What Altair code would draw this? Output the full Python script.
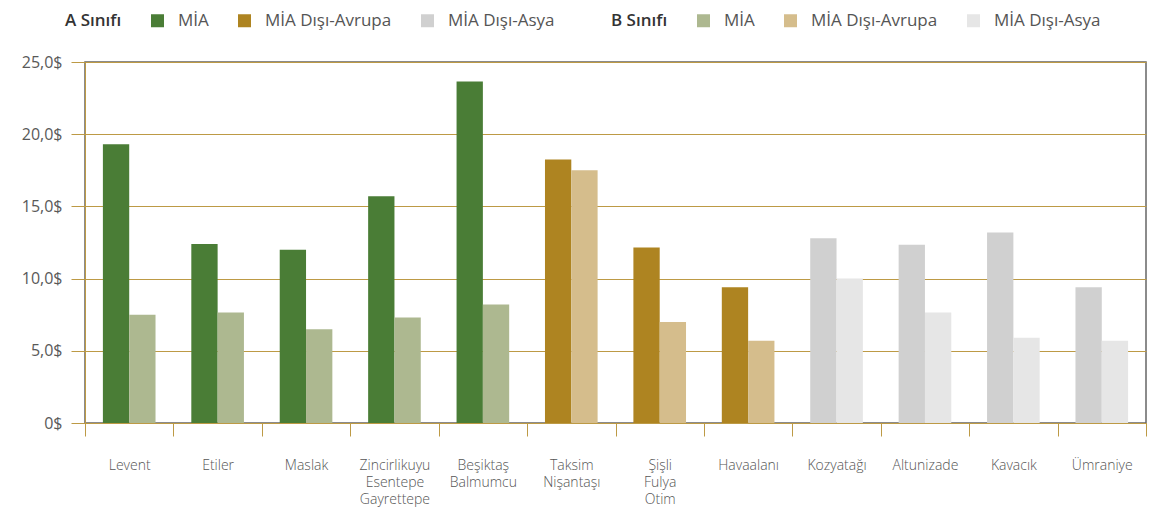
import altair as alt
import pandas as pd

locations = ["Levent", "Etiler", "Maslak", "Zincirlikuyu\nEsentepe\nGayrettepe",
             "Beşiktaş\nBalmumcu", "Taksim\nNişantaşı", "Şişli\nFulya\nOtim",
             "Havaalanı", "Kozyatağı", "Altunizade", "Kavacık", "Ümraniye"]
regions = ["MİA"] * 5 + ["MİA Dışı-Avrupa"] * 3 + ["MİA Dışı-Asya"] * 4
a_values = [19.3, 12.4, 12.0, 15.7, 23.65, 18.25, 12.15, 9.4, 12.8, 12.35, 13.2, 9.4]
b_values = [7.5, 7.65, 6.5, 7.3, 8.2, 17.5, 7.0, 5.7, 10.0, 7.65, 5.9, 5.7]

legend_keys = ["A Sınıfı", "A|MİA", "A|MİA Dışı-Avrupa", "A|MİA Dışı-Asya",
               "B Sınıfı", "B|MİA", "B|MİA Dışı-Avrupa", "B|MİA Dışı-Asya"]
legend_colors = ["transparent", "#4a7d36", "#ae8421", "#d0d0d0",
                 "transparent", "#adb890", "#d5bd8c", "#e6e6e6"]
y_ticks = [0, 5, 10, 15, 20, 25]

rows = []
for loc, reg, a, b in zip(locations, regions, a_values, b_values):
    rows.append({"loc": loc, "cls": "A", "key": "A|" + reg, "value": a})
    rows.append({"loc": loc, "cls": "B", "key": "B|" + reg, "value": b})
df = pd.DataFrame(rows)

GOLD = "#bd9a45"
FONT = "Open Sans"
IS_HEADER = "indexof(datum.value, '|') < 0"

chart = alt.Chart(df).mark_bar().encode(
    x=alt.X("loc:N", sort=locations, title=None,
            scale=alt.Scale(paddingInner=0, paddingOuter=0),
            axis=alt.Axis(labelAngle=0, tickBand="extent", domainColor=GOLD,
                          tickColor=GOLD, tickSize=13, labelPadding=22,
                          labelFont=FONT, labelFontSize=14, labelFontWeight=300,
                          labelColor="#555", labelLineHeight=17,
                          labelExpr="split(datum.label, '\\n')")),
    xOffset=alt.XOffset("cls:N", sort=["A", "B"],
                        scale=alt.Scale(paddingInner=0, paddingOuter=0.68)),
    y=alt.Y("value:Q", title=None,
            scale=alt.Scale(domain=[0, 25], nice=False),
            axis=alt.Axis(values=y_ticks, grid=True, gridColor=GOLD,
                          domainColor=GOLD, tickColor=GOLD, tickSize=14,
                          labelPadding=9, labelFont=FONT, labelFontSize=16,
                          labelColor="#595959",
                          labelExpr="datum.value == 0 ? '0$' : replace(format(datum.value, '.1f'), '.', ',') + '$'")),
    color=alt.Color("key:N",
                    scale=alt.Scale(domain=legend_keys, range=legend_colors),
                    legend=alt.Legend(
                        title=None, orient="none", direction="horizontal",
                        legendX=-49, legendY=-50, columns=8,
                        symbolType="square", symbolSize=169, symbolStrokeWidth=0,
                        labelFont=FONT, labelFontSize=17, labelLimit=300,
                        labelOffset=12, columnPadding=27,
                        labelExpr="indexof(datum.label, '|') >= 0 ? split(datum.label, '|')[1] : datum.label",
                        labelFontWeight=alt.ExprRef(expr=IS_HEADER + " ? 600 : 400"),
                        labelColor=alt.ExprRef(expr=IS_HEADER + " ? '#333' : '#555'"))),
).properties(
    width=1061, height=361,
    autosize=alt.AutoSizeParams(type="none"),
    padding={"left": 77, "top": 54, "right": 12, "bottom": 86},
).configure_view(stroke="#666", strokeWidth=1.5)

chart.save("out.html", embed_options={"renderer": "svg", "actions": False})
